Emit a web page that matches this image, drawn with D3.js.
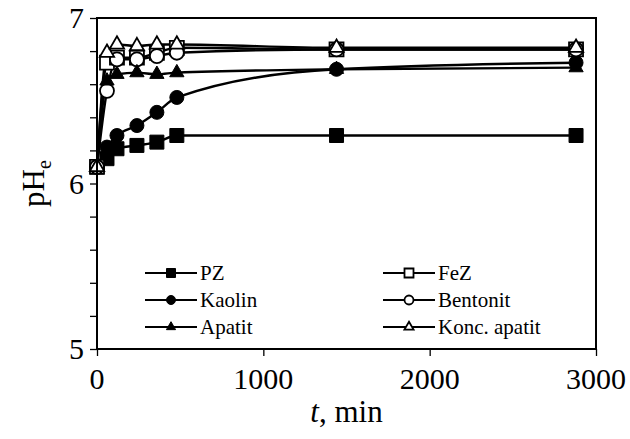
<!DOCTYPE html>
<html>
<head>
<meta charset="utf-8">
<script src="https://cdn.jsdelivr.net/npm/d3@7"></script>
<style>
  body { margin: 0; background: #fff; }
</style>
</head>
<body>
<div id="chart"></div>
<script>
// time points (min)
var times = [0, 60, 120, 240, 360, 480, 1440, 2880];

// pH_e per material
var pz      = [6.10, 6.15, 6.21, 6.23, 6.25, 6.29, 6.29, 6.29];
var fez     = [6.10, 6.73, 6.76, 6.76, 6.79, 6.82, 6.81, 6.81];
var kaolin  = [6.10, 6.22, 6.29, 6.35, 6.43, 6.52, 6.69, 6.73];
var bentonit = [6.10, 6.56, 6.75, 6.75, 6.77, 6.79, 6.81, 6.81];
var apatit  = [6.10, 6.62, 6.66, 6.67, 6.66, 6.67, 6.69, 6.70];
var koncApatit = [6.10, 6.79, 6.84, 6.83, 6.84, 6.84, 6.82, 6.82];

var seriesNames = ["PZ", "FeZ", "Kaolin", "Bentonit", "Apatit", "Konc. apatit"];
var seriesValues = [pz, fez, kaolin, bentonit, apatit, koncApatit];
var seriesShapes = ["square", "square", "circle", "circle", "triangle", "triangle"];
var seriesFilled = [true, false, true, false, true, false];

var xTicks = ["0", "1000", "2000", "3000"];
var yTicks = ["5", "6", "7"];

var svgWidth = 630;
var svgHeight = 439;
var serif = "'Liberation Serif', 'Times New Roman', serif";

var margin = { top: 18, right: 34, bottom: 90, left: 97 };
var width = svgWidth - margin.left - margin.right;
var height = svgHeight - margin.top - margin.bottom;

var svg = d3.select("#chart")
  .append("svg")
  .attr("width", svgWidth)
  .attr("height", svgHeight)
  .style("font-family", serif);

var chartGroup = svg.append("g")
  .attr("transform", `translate(${margin.left}, ${margin.top})`);

var xScale = d3.scaleLinear().domain([0, 3000]).range([0, width]);
var yScale = d3.scaleLinear().domain([5, 7]).range([height, 0]);

// ticks: x majors, y every 0.2
var xAxis = d3.axisBottom(xScale).tickValues(xTicks.map(Number)).tickSize(7).tickFormat("");
var yAxis = d3.axisLeft(yScale).tickValues(d3.range(5, 7.001, 0.2)).tickSize(7).tickFormat("");

var gx = chartGroup.append("g")
  .attr("transform", `translate(0, ${height})`)
  .call(xAxis);
var gy = chartGroup.append("g").call(yAxis);
[gx, gy].forEach(function(g) {
  g.select(".domain").remove();
  g.selectAll("text").remove();
  g.selectAll("line").attr("stroke", "#000").attr("stroke-width", 1.3);
});

// text helper so every label gets the same font
function label(parent, size) {
  return parent.append("text")
    .style("font-family", serif)
    .style("font-size", size + "px")
    .style("fill", "#000");
}

// tick labels
xTicks.forEach(function(d) {
  label(chartGroup, 30)
    .attr("x", xScale(+d))
    .attr("y", height + 40)
    .attr("text-anchor", "middle")
    .append("tspan").text(d);
});

yTicks.forEach(function(d) {
  label(chartGroup, 30)
    .attr("x", -13)
    .attr("y", yScale(+d) + 10)
    .attr("text-anchor", "end")
    .append("tspan").text(d);
});

// axis titles
var xTitle = label(chartGroup, 31)
  .attr("x", width / 2)
  .attr("y", height + 73)
  .attr("text-anchor", "middle");
xTitle.append("tspan").style("font-style", "italic").text("t");
xTitle.append("tspan").text(", min");

var yTitle = label(svg, 31)
  .attr("transform", `translate(44, ${margin.top + height / 2}) rotate(-90)`)
  .attr("text-anchor", "middle");
yTitle.append("tspan").text("pH");
yTitle.append("tspan").attr("dy", 7).style("font-size", "20px").text("e");

// lines
var line = d3.line()
  .x((d, i) => xScale(times[i]))
  .y(d => yScale(d))
  .curve(d3.curveMonotoneX);

function drawMarker(g, shape, filled, size) {
  var sym = shape === "square" ? d3.symbolSquare : shape === "circle" ? d3.symbolCircle : d3.symbolTriangle;
  var area = shape === "square" ? size * size : shape === "circle" ? Math.PI * size * size / 4 : size * size * 0.45;
  g.append("path")
    .attr("d", d3.symbol().type(sym).size(area)())
    .attr("fill", filled ? "#000" : "#fff")
    .attr("stroke", "#000")
    .attr("stroke-width", filled ? 1 : 1.8);
}

seriesValues.forEach(function(vals, k) {
  chartGroup.append("path")
    .datum(vals)
    .attr("d", line)
    .attr("fill", "none")
    .attr("stroke", "#000")
    .attr("stroke-width", 2.4);
});

seriesValues.forEach(function(vals, k) {
  vals.forEach(function(v, i) {
    var g = chartGroup.append("g")
      .attr("transform", `translate(${xScale(times[i])}, ${yScale(v)})`);
    drawMarker(g, seriesShapes[k], seriesFilled[k], 14);
  });
});

// frame
chartGroup.append("rect")
  .attr("width", width)
  .attr("height", height)
  .attr("fill", "none")
  .attr("stroke", "#000")
  .attr("stroke-width", 2);

// legend
var legend = chartGroup.append("g");
seriesNames.forEach(function(name, k) {
  var col = k % 2, row = Math.floor(k / 2);
  var lx = 48 + col * 238, ly = 255 + row * 27;
  var item = legend.append("g").attr("transform", `translate(${lx}, ${ly})`);
  item.append("line")
    .attr("x1", 0).attr("x2", 52)
    .attr("y1", 0).attr("y2", 0)
    .attr("stroke", "#000")
    .attr("stroke-width", 2);
  var m = item.append("g").attr("transform", "translate(26, 0)");
  drawMarker(m, seriesShapes[k], seriesFilled[k], 9);
  label(item, 21)
    .attr("x", 55)
    .attr("y", 7)
    .append("tspan").text(name);
});
</script>
</body>
</html>
